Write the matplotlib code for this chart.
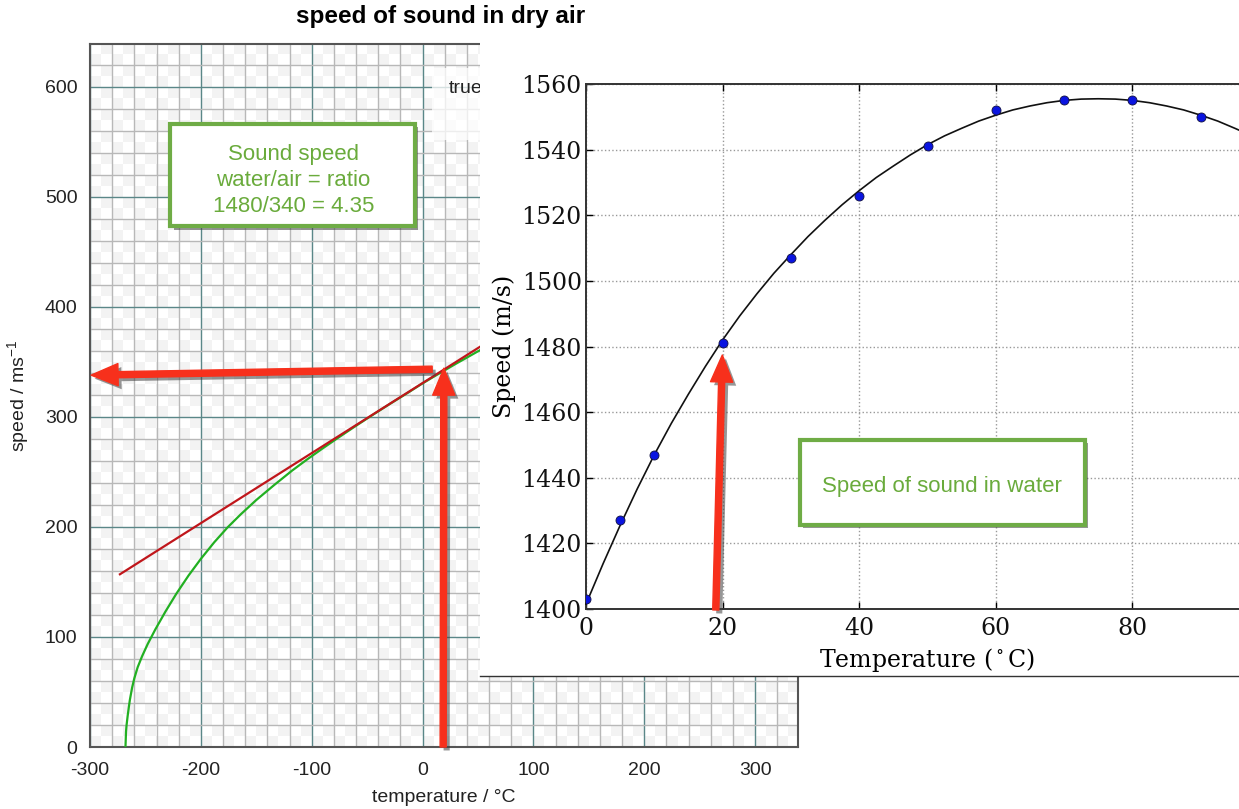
import matplotlib
matplotlib.use('Agg')
import matplotlib.pyplot as plt
import numpy as np
from matplotlib.patches import Rectangle, FancyArrowPatch
from matplotlib.lines import Line2D
from matplotlib.colors import ListedColormap
import matplotlib.patheffects as pe

# air: speed of sound vs temperature
air_t = [-268, -267.5, -267, -266, -265, -264, -262, -260, -257, -253, -248, -241,
         -232, -222, -211, -200, -188, -176, -164, -150, -134, -118, -104, -90, -77, -60,
         -44, -30, -14, 0, 13, 30, 52]
air_v = [0, 14, 20, 28.5, 36, 43, 54, 62.5, 72.5, 82.5, 93.5, 107,
         123, 139.5, 156, 171, 186, 199.5, 211.5, 224.5, 238, 251, 261.5, 271.5, 280.5, 292,
         302.5, 311.5, 321.5, 330.5, 338.3, 348.3, 360.8]
# tangent line at 0 C
tan_t = [-273, 60]
tan_v = [157, 369]

# water: measured points and fitted curve
water_t = [0, 5, 10, 20, 30, 40, 50, 60, 70, 80, 90]
water_v = [1403, 1427, 1447, 1481, 1507, 1526, 1541, 1552, 1555, 1555, 1550]
fit_t = [0, 2.5, 5, 7.5, 10, 12.5, 15, 17.5, 20, 22.5, 25, 27.5, 30, 32.5, 35, 37.5, 40,
         42.5, 45, 47.5, 50, 52.5, 55, 57.5, 60, 62.5, 65, 67.5, 70, 72.5, 75, 77.5, 80,
         82.5, 85, 87.5, 90, 92.5, 95, 97.5, 100]
fit_v = [1401.5, 1413.8, 1425.5, 1436.6, 1447, 1456.6, 1465.5, 1474.0, 1482, 1489.3, 1496,
         1502.3, 1508, 1513.5, 1518.5, 1523.2, 1527.5, 1531.5, 1535, 1538.4, 1541.5, 1544.2,
         1546.5, 1548.7, 1550.5, 1552.1, 1553.3, 1554.3, 1555, 1555.4, 1555.5, 1555.4, 1555,
         1554.3, 1553.3, 1552.1, 1550.5, 1548.7, 1546.5, 1544.2, 1541.5]
water_xticks = [0, 20, 40, 60, 80, 100]
water_xlabels = ['0', '20', '40', '60', '80', '']   # 100 falls outside the crop

plt.rcParams['axes.unicode_minus'] = False
plt.rcParams['mathtext.fontset'] = 'custom'
plt.rcParams['mathtext.rm'] = 'Liberation Sans'
plt.rcParams['mathtext.it'] = 'Liberation Sans:italic'

W, H = 1239, 809
fig = plt.figure(figsize=(W / 100, H / 100), dpi=100)

def fx(px):
    return px / W

def fy(py):
    return 1 - py / H

green = '#6aab3c'
arrow_red = '#f7301c'
shadow = [pe.SimplePatchShadow(offset=(2.5, -2.5), shadow_rgbFace='0.25', alpha=0.55), pe.Normal()]

# ---------------- left chart: dry air ----------------
ax = fig.add_axes([fx(90), fy(747), fx(798) - fx(90), fy(44) - fy(747)], zorder=0)
checker = np.indices((64, 64)).sum(axis=0) % 2
ax.imshow(checker, extent=(-300, 340, 0, 640), cmap=ListedColormap(['white', '#f3f3f3']),
          aspect='auto', interpolation='nearest', zorder=0)
ax.set_xlim(-300, 338.7)
ax.set_ylim(0, 639)
ax.set_xticks(np.arange(-300, 301, 100))
ax.set_xticks(np.arange(-300, 340, 20), minor=True)
ax.set_yticks(np.arange(0, 601, 100))
ax.set_yticks(np.arange(0, 640, 20), minor=True)
ax.set_axisbelow(True)
ax.grid(which='minor', color='#b8b8b8', lw=1.0)
ax.grid(which='major', color='#5a8788', lw=1.0)
ax.tick_params(which='both', length=0)
ax.tick_params(axis='x', pad=11, labelsize=14, labelcolor='#222222', labelfontfamily='Liberation Sans')
ax.tick_params(axis='y', pad=9, labelsize=14, labelcolor='#222222', labelfontfamily='Liberation Sans')
for s in ax.spines.values():
    s.set_color('#555555')
    s.set_linewidth(1.5)

ax.plot(air_t, air_v, color='#22b022', lw=1.6, zorder=3, solid_joinstyle='round')
ax.plot(tan_t, tan_v, color='#c0161b', lw=1.6, zorder=3)

ax.set_xlabel('temperature / °C', fontsize=14, family='Liberation Sans', color='#222222', labelpad=7)
ax.set_ylabel(r'speed / ms$^{-1}$', fontsize=14, family='Liberation Sans', color='#222222', labelpad=10)

# partly hidden legend
ax.add_patch(Rectangle((0.483, 0.863), 0.1, 0.103, transform=ax.transAxes,
                       fc='white', ec='none', alpha=0.75, zorder=4))
ax.text(0.507, 0.9374, 'true', transform=ax.transAxes, fontsize=14,
        family='Liberation Sans', va='center', ha='left', color='#222222', zorder=5)

# red arrows
for tail, head in [((8.7, 343.4), (-299, 338)), ((18.6, 0), (19.2, 344.3))]:
    arr = FancyArrowPatch(tail, head, arrowstyle='simple,head_length=0.97,head_width=0.8,tail_width=0.22',
                          mutation_scale=20, color=arrow_red, shrinkA=0, shrinkB=0,
                          zorder=6, clip_on=False)
    arr.set_path_effects(shadow)
    ax.add_patch(arr)

# note box
box1 = Rectangle((0.1134, 0.7407), 0.3452, 0.146, transform=ax.transAxes,
                 fc='white', ec='#6fac46', lw=3, zorder=7)
box1.set_path_effects(shadow)
ax.add_patch(box1)
ax.text(0.2872, 0.806, 'Sound speed\nwater/air = ratio\n1480/340 = 4.35', transform=ax.transAxes,
        ha='center', va='center', fontsize=16, family='Liberation Sans', color=green,
        linespacing=1.32, zorder=8)

fig.text(fx(441), fy(16), 'speed of sound in dry air', ha='center', va='center',
         fontsize=17.5, fontweight='bold', family='Liberation Sans', zorder=10)

# ---------------- inset: water ----------------
fig.patches.append(Rectangle((fx(480), fy(676)), fx(1239) - fx(480), fy(30) - fy(676),
                             transform=fig.transFigure, fc='white', ec='none', zorder=1))
fig.lines.append(Line2D([fx(480), 1], [fy(676), fy(676)], transform=fig.transFigure,
                        color='#333333', lw=1.0, zorder=1.5))

ax2 = fig.add_axes([fx(586), fy(609), 683 / W, 525 / H], zorder=2)
ax2.set_xlim(0, 100)
ax2.set_ylim(1400, 1560)
ax2.set_xticks(water_xticks)
ax2.set_xticklabels(water_xlabels)
ax2.set_yticks(np.arange(1400, 1561, 20))
ax2.grid(color='#999999', ls=':', lw=1.0)
ax2.tick_params(direction='in', top=True, right=True, length=5, width=1, labelsize=17,
                labelfontfamily='DejaVu Serif', labelcolor='#111111')
ax2.tick_params(axis='y', pad=3)
ax2.tick_params(axis='x', pad=6)
for s in ax2.spines.values():
    s.set_color('#333333')
    s.set_linewidth(1.4)

ax2.plot(fit_t, fit_v, color='#111111', lw=1.2, zorder=3, clip_on=False)
ax2.plot(water_t, water_v, 'o', color='#0a14e0', mec='#101040', mew=0.6, ms=6.5, zorder=4)

ax2.set_xlabel(r'Temperature ($^\circ$C)', fontsize=17, family='DejaVu Serif',
               math_fontfamily='dejavuserif', labelpad=4)
ax2.set_ylabel('Speed (m/s)', fontsize=17, family='DejaVu Serif', labelpad=4)

arr2 = FancyArrowPatch((19.0, 1399.7), (19.96, 1477.4),
                       arrowstyle='simple,head_length=0.97,head_width=0.8,tail_width=0.22',
                       mutation_scale=20, color=arrow_red, shrinkA=0, shrinkB=0, zorder=6, clip_on=False)
arr2.set_path_effects(shadow)
ax2.add_patch(arr2)

box2 = Rectangle((0.3133, 0.16), 0.4173, 0.162, transform=ax2.transAxes,
                 fc='white', ec='#6fac46', lw=3, zorder=7)
box2.set_path_effects(shadow)
ax2.add_patch(box2)
ax2.text(0.521, 0.234, 'Speed of sound in water', transform=ax2.transAxes,
         ha='center', va='center', fontsize=16, family='Liberation Sans', color=green, zorder=8)

fig.savefig('out.png', dpi=100)
